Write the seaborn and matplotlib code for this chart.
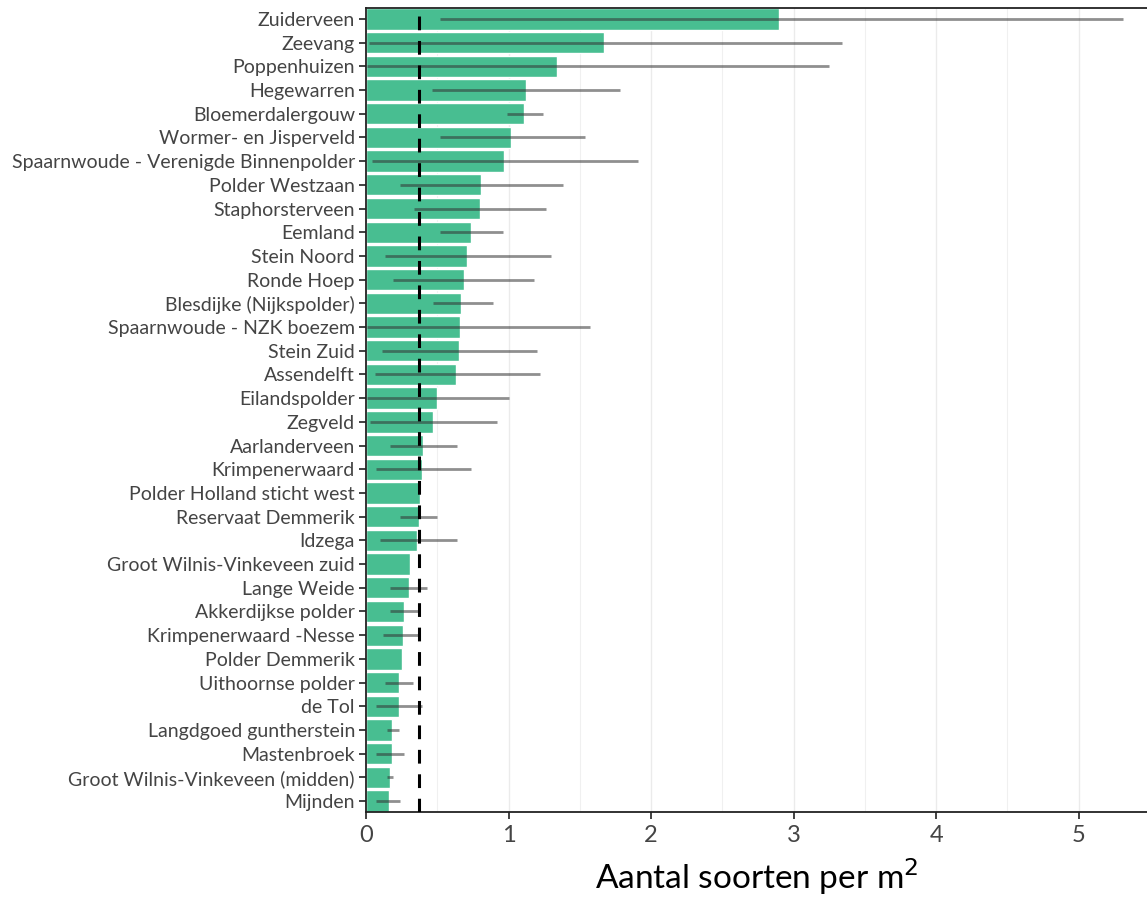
import pandas as pd
import matplotlib.pyplot as plt
import seaborn as sns
import numpy as np

gebieden = [
    "Zuiderveen", "Zeevang", "Poppenhuizen", "Hegewarren", "Bloemerdalergouw",
    "Wormer- en Jisperveld", "Spaarnwoude - Verenigde Binnenpolder", "Polder Westzaan",
    "Staphorsterveen", "Eemland", "Stein Noord", "Ronde Hoep", "Blesdijke (Nijkspolder)",
    "Spaarnwoude - NZK boezem", "Stein Zuid", "Assendelft", "Eilandspolder", "Zegveld",
    "Aarlanderveen", "Krimpenerwaard", "Polder Holland sticht west", "Reservaat Demmerik",
    "Idzega", "Groot Wilnis-Vinkeveen zuid", "Lange Weide", "Akkerdijkse polder",
    "Krimpenerwaard -Nesse", "Polder Demmerik", "Uithoornse polder", "de Tol",
    "Langdgoed guntherstein", "Mastenbroek", "Groot Wilnis-Vinkeveen (midden)", "Mijnden",
]
gemiddelde = [
    2.90, 1.67, 1.34, 1.12, 1.11, 1.02, 0.97, 0.81, 0.80, 0.74, 0.71, 0.69, 0.67,
    0.66, 0.65, 0.63, 0.50, 0.47, 0.40, 0.39, 0.38, 0.37, 0.36, 0.31, 0.30, 0.27,
    0.26, 0.25, 0.23, 0.23, 0.18, 0.18, 0.17, 0.16,
]
ondergrens = [
    0.52, 0.02, 0.01, 0.46, 0.99, 0.52, 0.04, 0.24, 0.34, 0.52, 0.13, 0.19, 0.47,
    0.01, 0.11, 0.06, 0.01, 0.03, 0.17, 0.07, np.nan, 0.24, 0.10, np.nan, 0.17, 0.17,
    0.12, np.nan, 0.13, 0.07, 0.15, 0.07, 0.15, 0.07,
]
bovengrens = [
    5.31, 3.34, 3.25, 1.78, 1.24, 1.54, 1.91, 1.38, 1.26, 0.96, 1.30, 1.18, 0.89,
    1.57, 1.20, 1.22, 1.00, 0.92, 0.64, 0.74, np.nan, 0.50, 0.64, np.nan, 0.43, 0.37,
    0.38, np.nan, 0.33, 0.39, 0.23, 0.27, 0.19, 0.24,
]
referentie = 0.37

df = pd.DataFrame({"gebied": gebieden, "soorten": gemiddelde,
                   "lo": ondergrens, "hi": bovengrens})

sns.set_theme(style="white")
plt.rcParams["font.family"] = ["Lato", "DejaVu Sans"]

fig = plt.figure(figsize=(11.47, 8.97), dpi=100)
ax = fig.add_axes([366 / 1147, 1 - 812 / 897, 1 - 366 / 1147, (812 - 8) / 897])

# grid
ax.set_xticks(np.arange(0.5, 5.6, 1.0), minor=True)
ax.grid(axis="x", which="major", color="#ebebeb", linewidth=1.0, zorder=0)
ax.grid(axis="x", which="minor", color="#f0f0f0", linewidth=0.8, zorder=0)
ax.grid(axis="y", which="major", color="#d9d9d9", linewidth=1.8, zorder=0)
ax.set_axisbelow(True)

sns.barplot(data=df, x="soorten", y="gebied", order=gebieden, orient="h",
            color="#48be91", saturation=1, width=0.9, errorbar=None, ax=ax, zorder=2)

ypos = np.arange(len(gebieden))
ax.hlines(ypos, df["lo"], df["hi"], color="#333333", alpha=0.55, linewidth=2, zorder=3)
ax.axvline(referentie, color="black", linestyle=(0, (4.5, 3.5)), linewidth=2.2, zorder=4)

ax.set_xlim(0, 5.48)
ax.set_ylim(len(gebieden) - 0.54, -0.46)
ax.set_xticks([0, 1, 2, 3, 4, 5])

for side in ["left", "bottom", "top"]:
    ax.spines[side].set_color("#222222")
    ax.spines[side].set_linewidth(1.3)
ax.spines["right"].set_visible(False)

ax.tick_params(axis="y", length=5, width=1.3, color="#333333", labelsize=14,
               labelcolor="#444444", pad=3, left=True)
ax.tick_params(axis="x", length=5, width=1.3, color="#333333", labelsize=17,
               labelcolor="#444444", pad=4, bottom=True)

ax.set_ylabel("")
ax.set_xlabel("Aantal soorten per m$^2$", fontsize=24, color="black", labelpad=8)

fig.savefig("out.png", dpi=100)
